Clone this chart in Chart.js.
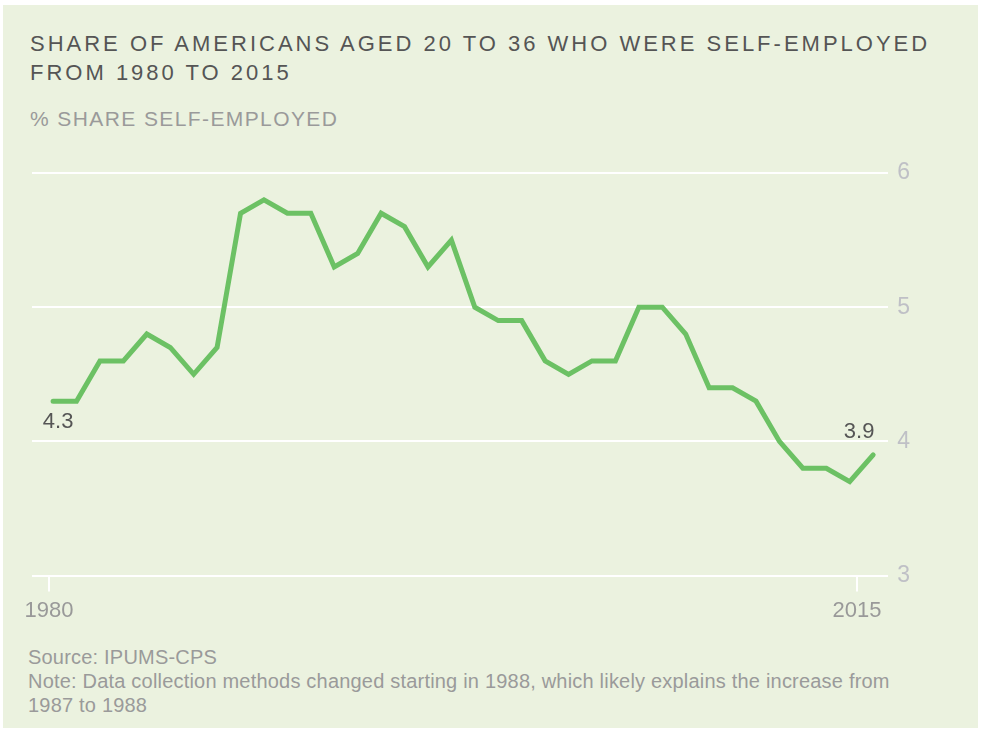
<!DOCTYPE html>
<html>
<head>
<meta charset="utf-8">
<script src="https://cdn.jsdelivr.net/npm/chart.js@4"></script>
<style>
  html, body { margin: 0; padding: 0; background: #ffffff; }
  body { width: 981px; height: 733px; position: relative; overflow: hidden; font-family: "Liberation Sans", Arial, sans-serif; }
  .panel { position: absolute; left: 3px; top: 5px; width: 975px; height: 723px; background: #ebf2df; }
  .title { position: absolute; left: 30px; top: 29px; font-size: 22px; line-height: 29px; color: #555555; letter-spacing: 3px; white-space: nowrap; }
  .subtitle { position: absolute; left: 30px; top: 106px; font-size: 21px; line-height: 25px; color: #9a9a9a; letter-spacing: 1.4px; white-space: nowrap; }
  .footer { position: absolute; left: 28px; top: 645px; font-size: 20px; line-height: 24px; color: #9a9a9a; letter-spacing: 0.2px; white-space: nowrap; }
  .chart-box { position: absolute; left: 0; top: 140px; width: 981px; height: 500px; }
</style>
</head>
<body>
<div class="panel"></div>
<div class="title">SHARE OF AMERICANS AGED 20 TO 36 WHO WERE SELF-EMPLOYED<br>FROM 1980 TO 2015</div>
<div class="subtitle">% SHARE SELF-EMPLOYED</div>
<div class="chart-box"><canvas id="self-employed-chart"></canvas></div>
<div class="footer">Source: IPUMS-CPS<br>Note: Data collection methods changed starting in 1988, which likely explains the increase from<br>1987 to 1988</div>
<script>
'use strict';

const years = [
  1980, 1981, 1982, 1983, 1984, 1985, 1986, 1987, 1988, 1989,
  1990, 1991, 1992, 1993, 1994, 1995, 1996, 1997, 1998, 1999,
  2000, 2001, 2002, 2003, 2004, 2005, 2006, 2007, 2008, 2009,
  2010, 2011, 2012, 2013, 2014, 2015,
];
const shareSelfEmployed = [
  4.3, 4.3, 4.6, 4.6, 4.8, 4.7, 4.5, 4.7, 5.7, 5.8,
  5.7, 5.7, 5.3, 5.4, 5.7, 5.6, 5.3, 5.5, 5.0, 4.9,
  4.9, 4.6, 4.5, 4.6, 4.6, 5.0, 5.0, 4.8, 4.4, 4.4,
  4.3, 4.0, 3.8, 3.8, 3.7, 3.9,
];
const xTickYears = [1980, 2015];
const yTickValues = [3, 4, 5, 6];

document.addEventListener('DOMContentLoaded', function () {
  const lineGreen = '#6cc164';
  const fontFamily = '"Liberation Sans", Arial, sans-serif';

  // labels for the first and the last value
  const endLabels = {
    id: 'endLabels',
    afterDatasetsDraw: function (chart) {
      const pts = chart.getDatasetMeta(0).data;
      const first = pts[0];
      const last = pts[pts.length - 1];
      const ctx = chart.ctx;
      ctx.save();
      ctx.font = '22px ' + fontFamily;
      ctx.fillStyle = '#555555';
      ctx.textAlign = 'center';
      ctx.textBaseline = 'alphabetic';
      ctx.fillText(shareSelfEmployed[0].toFixed(1), first.x + 5, first.y + 27);
      ctx.fillText(shareSelfEmployed[shareSelfEmployed.length - 1].toFixed(1), last.x - 14, last.y - 17);
      ctx.restore();
    },
  };

  const ctx = document.getElementById('self-employed-chart').getContext('2d');
  new Chart(ctx, {
    type: 'line',
    data: {
      datasets: [
        {
          data: years.map(function (y, i) { return { x: y, y: shareSelfEmployed[i] }; }),
          borderColor: lineGreen,
          borderWidth: 5,
          borderCapStyle: 'round',
          borderJoinStyle: 'miter',
          pointRadius: 0,
          tension: 0,
          fill: false,
          xAxisID: 'x',
          yAxisID: 'y',
        },
      ],
    },
    options: {
      responsive: true,
      maintainAspectRatio: false,
      animation: false,
      events: [],
      layout: {
        padding: { left: 32, top: 33, right: 62, bottom: 10 },
      },
      plugins: {
        legend: { display: false },
        tooltip: { enabled: false },
      },
      scales: {
        x: {
          type: 'linear',
          display: false,
          min: 1979.1,
          max: 2015.643,
        },
        xTicks: {
          type: 'linear',
          position: 'bottom',
          min: 1979.261,
          max: 2016.348,
          afterBuildTicks: function (axis) {
            axis.ticks = xTickYears.map(function (v) { return { value: v }; });
          },
          grid: {
            drawOnChartArea: false,
            drawTicks: true,
            tickLength: 16,
            color: '#ffffff',
            lineWidth: 2,
          },
          border: { display: false },
          ticks: {
            color: '#999999',
            padding: 6,
            maxRotation: 0,
            autoSkip: false,
            font: { family: fontFamily, size: 22 },
            callback: function (value) { return String(value); },
          },
        },
        y: {
          position: 'right',
          min: 3,
          max: 6,
          afterBuildTicks: function (axis) {
            axis.ticks = yTickValues.map(function (v) { return { value: v }; });
          },
          grid: {
            color: '#ffffff',
            lineWidth: 2,
            drawTicks: false,
          },
          border: { display: false },
          ticks: {
            color: '#bfc0c6',
            padding: 9,
            font: { family: fontFamily, size: 23 },
          },
        },
      },
    },
    plugins: [endLabels],
  });
});
</script>
</body>
</html>
